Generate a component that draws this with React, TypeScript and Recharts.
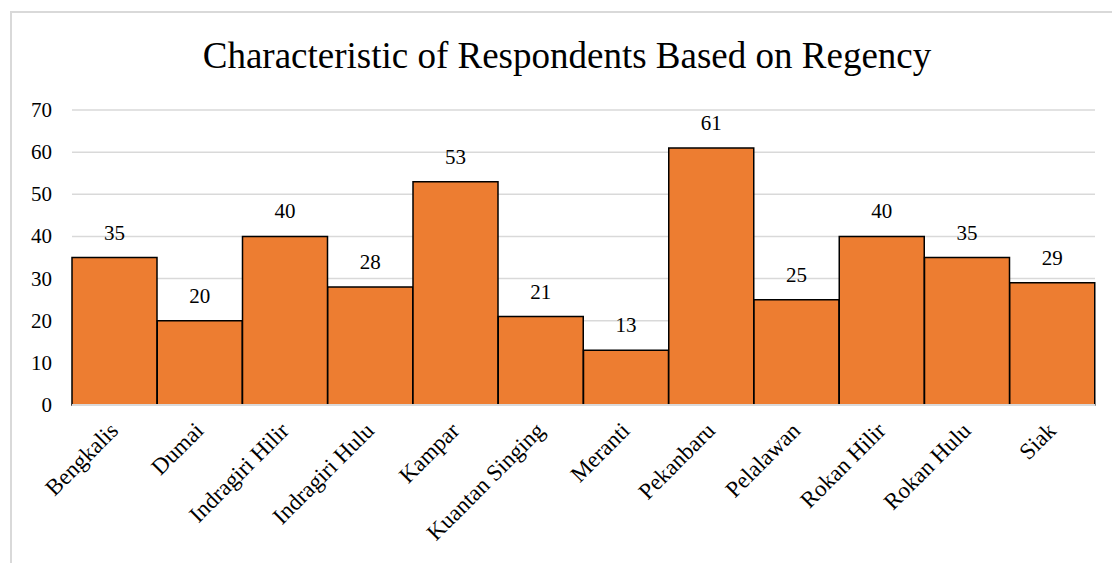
import React from 'react';
import { BarChart, Bar, XAxis, YAxis, CartesianGrid, LabelList } from 'recharts';

const regencies = ['Bengkalis', 'Dumai', 'Indragiri Hilir', 'Indragiri Hulu', 'Kampar', 'Kuantan Singing', 'Meranti', 'Pekanbaru', 'Pelalawan', 'Rokan Hilir', 'Rokan Hulu', 'Siak'];
const respondents = [35, 20, 40, 28, 53, 21, 13, 61, 25, 40, 35, 29];
const yTicks = [0, 10, 20, 30, 40, 50, 60, 70];

const data = regencies.map((name, i) => ({ name, value: respondents[i] }));

const FONT = '"Liberation Serif", "Times New Roman", serif';

const XTick = (props: any) => {
  const { x, y, payload } = props;
  return (
    <g transform={`translate(${x + 5},${y + 19}) rotate(-45)`}>
      <text x={0} y={0} textAnchor="end" style={{ fontFamily: FONT, fontSize: 23 }} fill="#000">
        {payload.value}
      </text>
    </g>
  );
};

const YTick = (props: any) => {
  const { x, y, payload } = props;
  return (
    <text x={x} y={y} dy={7} textAnchor="end" style={{ fontFamily: FONT, fontSize: 21 }} fill="#000">
      {payload.value}
    </text>
  );
};

const BarLabel = (props: any) => {
  const { x, y, width, value } = props;
  return (
    <text x={x + width / 2} y={y - 18} textAnchor="middle" style={{ fontFamily: FONT, fontSize: 21 }} fill="#000">
      {value}
    </text>
  );
};

export default function App() {
  return (
    <div style={{ position: 'absolute', left: 0, top: 0, width: 1112, height: 563, background: '#fff', overflow: 'hidden' }}>
      <div style={{ position: 'absolute', left: 10, top: 11, width: 1200, height: 700, borderLeft: '2px solid #d9d9d9', borderTop: '2px solid #d9d9d9' }} />
      <div style={{ position: 'absolute', left: 0, top: 33, width: 1134, textAlign: 'center', fontFamily: FONT, fontSize: 37, color: '#000', lineHeight: '46px' }}>
        Characteristic of Respondents Based on Regency
      </div>
      <div style={{ position: 'absolute', left: 0, top: 0 }}>
        <BarChart width={1112} height={563} data={data} margin={{ top: 110, right: 17, bottom: 0, left: 0 }} barCategoryGap={0}>
          <CartesianGrid vertical={false} stroke="#d9d9d9" strokeWidth={1.5} />
          <XAxis dataKey="name" interval={0} tickLine={false} axisLine={{ stroke: '#d9d9d9', strokeWidth: 2 }} tick={<XTick />} height={158} />
          <YAxis domain={[0, 70]} ticks={yTicks} width={72} tickLine={false} axisLine={false} tickMargin={14} tick={<YTick />} />
          <Bar dataKey="value" fill="#ED7D31" stroke="#000" strokeWidth={1.5} isAnimationActive={false}>
            <LabelList dataKey="value" content={<BarLabel />} />
          </Bar>
        </BarChart>
      </div>
    </div>
  );
}
